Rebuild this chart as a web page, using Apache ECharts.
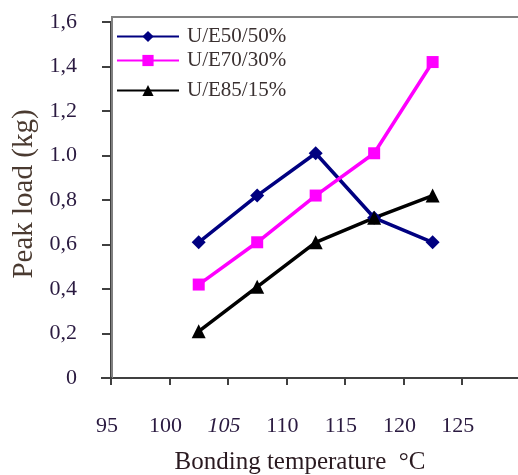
<!DOCTYPE html>
<html><head><meta charset="utf-8">
<script src="https://cdn.jsdelivr.net/npm/echarts@6/dist/echarts.min.js"></script>
<style>html,body{margin:0;padding:0;background:#fff}#c{width:518px;height:475px}</style>
</head><body><div id="c"></div>
<script>
const temperatures = [102.5, 107.5, 112.5, 117.5, 122.5];
const seriesNames = ['U/E50/50%', 'U/E70/30%', 'U/E85/15%'];
const ue50 = [0.61, 0.82, 1.01, 0.72, 0.61];
const ue70 = [0.42, 0.61, 0.82, 1.01, 1.42];
const ue85 = [0.21, 0.41, 0.61, 0.72, 0.82];
const xTicks = [95, 100, 105, 110, 115, 120, 125];
const yTicks = [0, 0.2, 0.4, 0.6, 0.8, 1.0, 1.2, 1.4, 1.6];
const yTickLabels = ['0', '0,2', '0,4', '0,6', '0,8', '1.0', '1,2', '1,4', '1,6'];

const serif = '"Liberation Serif", "DejaVu Serif", serif';
const colors = ['#000080', '#ff00ff', '#000000'];
const symbols = ['diamond', 'rect', 'triangle'];
const symSizes = [14, 12, 14];
const values = [ue50, ue70, ue85];
const legendTops = [26, 50, 80];

const chart = echarts.init(document.getElementById('c'), null, {renderer: 'canvas'});
chart.setOption({
  animation: false,
  backgroundColor: '#fff',
  grid: {left: 111, right: 0, top: 22, bottom: 97, containLabel: false},
  legend: seriesNames.map((n, i) => ({
    data: [n], left: 116, top: legendTops[i], orient: 'vertical', padding: 0,
    itemWidth: 62, itemHeight: 14, itemGap: 4,
    textStyle: {fontFamily: serif, fontSize: 21, color: '#3a3030', padding: [0, 0, 0, 3]},
    lineStyle: {width: 2}
  })),
  xAxis: {
    type: 'value', min: 95, max: 129.8, interval: 5,
    axisLine: {show: true, onZero: false, lineStyle: {color: '#404040', width: 2}},
    axisTick: {show: true, length: 7, lineStyle: {color: '#404040', width: 2}},
    splitLine: {show: false},
    axisLabel: {
      showMaxLabel: false, margin: 37, padding: [0, 8, 0, 0],
      fontFamily: serif, fontSize: 22, color: '#2a1a40',
      formatter: v => xTicks.includes(v) ? (v === 105 ? '{i|' + v + '}' : String(v)) : '',
      rich: {i: {fontFamily: serif, fontSize: 22, fontStyle: 'italic', color: '#2a1a40'}}
    }
  },
  yAxis: {
    type: 'value', min: 0, max: 1.6, interval: 0.2,
    axisLine: {show: true, lineStyle: {color: '#404040', width: 2}},
    axisTick: {show: true, length: 9, lineStyle: {color: '#404040', width: 2}},
    splitLine: {show: false},
    axisLabel: {
      margin: 34, fontFamily: serif, fontSize: 22, color: '#2a1a40',
      formatter: v => { const i = yTicks.findIndex(k => Math.abs(k - v) < 1e-6); return i < 0 ? '' : yTickLabels[i]; }
    }
  },
  graphic: [
    {type: 'polyline', shape: {points: [[112, 378], [112, 17], [518, 17]]}, style: {stroke: '#808080', lineWidth: 2, fill: null}, z: 1},
    {type: 'line', shape: {x1: 101, y1: 378, x2: 112, y2: 378}, style: {stroke: '#404040', lineWidth: 2}, z: 2},
    {type: 'text', x: 24, y: 194, rotation: Math.PI / 2, style: {text: 'Peak load (kg)', font: '29px ' + serif, fill: '#4a3a30', align: 'center', verticalAlign: 'middle'}},
    {type: 'text', x: 300, y: 462, style: {text: 'Bonding temperature  \u00b0C', font: '25px ' + serif, fill: '#2a1a20', align: 'center', verticalAlign: 'middle'}}
  ],
  series: seriesNames.map((n, i) => ({
    name: n, type: 'line',
    data: temperatures.map((t, j) => [t, values[i][j]]),
    symbol: symbols[i], symbolSize: symSizes[i], showAllSymbol: true,
    lineStyle: {color: colors[i], width: 3.5},
    itemStyle: {color: colors[i], borderWidth: 0},
    z: 3
  }))
});
</script></body></html>
